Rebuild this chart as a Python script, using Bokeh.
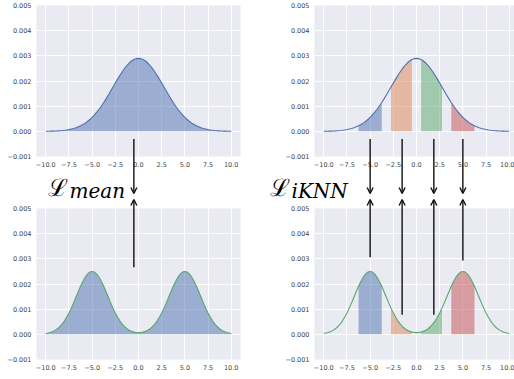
from bokeh.plotting import figure
from bokeh.models import GridBox, FixedTicker, Arrow, OpenHead
from bokeh.core.properties import value
from bokeh.embed import file_html
from bokeh.resources import INLINE
import numpy as np

# ---------------- data (values in thousandths) ----------------
x_grid = [-10.0, -9.75, -9.5, -9.25, -9.0, -8.75, -8.5, -8.25, -8.0, -7.75,
          -7.5, -7.25, -7.0, -6.75, -6.5, -6.25, -6.0, -5.75, -5.5, -5.25,
          -5.0, -4.75, -4.5, -4.25, -4.0, -3.75, -3.5, -3.25, -3.0, -2.75,
          -2.5, -2.25, -2.0, -1.75, -1.5, -1.25, -1.0, -0.75, -0.5, -0.25,
          0.0, 0.25, 0.5, 0.75, 1.0, 1.25, 1.5, 1.75, 2.0, 2.25,
          2.5, 2.75, 3.0, 3.25, 3.5, 3.75, 4.0, 4.25, 4.5, 4.75,
          5.0, 5.25, 5.5, 5.75, 6.0, 6.25, 6.5, 6.75, 7.0, 7.25,
          7.5, 7.75, 8.0, 8.25, 8.5, 8.75, 9.0, 9.25, 9.5, 9.75, 10.0]

unimodal_k = [0.004, 0.005, 0.007, 0.010, 0.014, 0.018, 0.024, 0.032, 0.042, 0.055,
              0.070, 0.090, 0.114, 0.143, 0.178, 0.219, 0.268, 0.326, 0.392, 0.469,
              0.555, 0.652, 0.760, 0.879, 1.007, 1.145, 1.290, 1.442, 1.600, 1.759,
              1.918, 2.075, 2.226, 2.368, 2.499, 2.615, 2.714, 2.794, 2.852, 2.888,
              2.900, 2.888, 2.852, 2.794, 2.714, 2.615, 2.499, 2.368, 2.226, 2.075,
              1.918, 1.759, 1.600, 1.442, 1.290, 1.145, 1.007, 0.879, 0.760, 0.652,
              0.555, 0.469, 0.392, 0.326, 0.268, 0.219, 0.178, 0.143, 0.114, 0.090,
              0.070, 0.055, 0.042, 0.032, 0.024, 0.018, 0.014, 0.010, 0.007, 0.005, 0.004]

bimodal_k = [0.033, 0.050, 0.075, 0.110, 0.157, 0.219, 0.300, 0.402, 0.527, 0.676,
             0.848, 1.041, 1.251, 1.472, 1.694, 1.908, 2.103, 2.268, 2.394, 2.473,
             2.500, 2.473, 2.394, 2.268, 2.103, 1.908, 1.694, 1.472, 1.251, 1.041,
             0.848, 0.676, 0.527, 0.403, 0.302, 0.222, 0.162, 0.118, 0.088, 0.071,
             0.066, 0.071, 0.088, 0.118, 0.162, 0.222, 0.302, 0.403, 0.527, 0.676,
             0.848, 1.041, 1.251, 1.472, 1.694, 1.908, 2.103, 2.268, 2.394, 2.473,
             2.500, 2.473, 2.394, 2.268, 2.103, 1.908, 1.694, 1.472, 1.251, 1.041,
             0.848, 0.676, 0.527, 0.402, 0.300, 0.219, 0.157, 0.110, 0.075, 0.050, 0.033]

band_lo = [-6.25, -2.75, 0.5, 3.75]
band_hi = [-3.75, -0.5, 2.75, 6.25]
band_colors = ["#4C72B0", "#DD8452", "#55A868", "#C44E52"]

x_ticks = [-10.0, -7.5, -5.0, -2.5, 0.0, 2.5, 5.0, 7.5, 10.0]
x_tick_labels = ["\u221210.0", "\u22127.5", "\u22125.0", "\u22122.5", "0.0", "2.5", "5.0", "7.5", "10.0"]
y_ticks = [-0.001, 0.0, 0.001, 0.002, 0.003, 0.004, 0.005]
y_tick_labels = ["\u22120.001", "0.000", "0.001", "0.002", "0.003", "0.004", "0.005"]

# arrows: x positions (data) and start heights (data)
mean_arrow_x = [-0.5]
mean_top_start = [-0.0003]
mean_bottom_start = [0.00267]
knn_arrow_x = [-5.0, -1.55, 1.87, 5.0]
knn_top_start = [-0.0003, -0.0003, -0.0003, -0.0003]
knn_bottom_start = [0.00306, 0.00078, 0.00078, 0.00293]

loss_symbol = "\u2112"
loss_subscripts = ["mean", "iKNN"]

xs = np.array(x_grid)
uni = np.array(unimodal_k) * 1e-3
bim = np.array(bimodal_k) * 1e-3

BG = "#EAEAF2"
BLUE = "#4C72B0"
GREEN = "#55A868"
TICK_COLOR = "#444444"

# ---------------- layout geometry (pixels) ----------------
COL_W = [256, 258]
ROW_H = [197, 182]
FRAME_LEFT = [36, 314]          # page x of frame left, per column
FRAME_TOP = [5, 208]            # page y of frame top, per row
FRAME_H = 151
PX_PER_X = 204 / 22.0
PX_PER_Y = FRAME_H / 0.006
X0, Y0, Y1 = -11.0, -0.001, 0.005


def panel(col, row):
    left_border = FRAME_LEFT[col] - sum(COL_W[:col])
    frame_w = 204 if col == 0 else 514 - FRAME_LEFT[1]
    right_border = COL_W[col] - left_border - frame_w
    top_border = FRAME_TOP[row] - sum(ROW_H[:row])
    bottom_border = ROW_H[row] - top_border - FRAME_H
    x_end = X0 + frame_w / PX_PER_X
    p = figure(width=COL_W[col], height=ROW_H[row], x_range=(X0, x_end), y_range=(Y0, Y1),
               output_backend="svg", toolbar_location=None,
               min_border_left=left_border, min_border_right=right_border,
               min_border_top=top_border, min_border_bottom=bottom_border)
    p.background_fill_color = BG
    p.border_fill_color = "white"
    p.outline_line_color = None
    p.grid.grid_line_color = "white"
    p.grid.grid_line_width = 1
    p.xaxis.ticker = FixedTicker(ticks=x_ticks)
    p.xaxis.major_label_overrides = dict(zip(x_ticks, x_tick_labels))
    p.yaxis.ticker = FixedTicker(ticks=y_ticks)
    p.yaxis.major_label_overrides = dict(zip(y_ticks, y_tick_labels))
    for ax in (p.xaxis, p.yaxis):
        ax.axis_line_color = None
        ax.major_tick_line_color = None
        ax.minor_tick_line_color = None
        ax.major_tick_out = 0
        ax.major_tick_in = 0
        ax.major_label_standoff = 5
        ax.major_label_text_font = "DejaVu Sans"
        ax.major_label_text_font_size = "6.5px"
        ax.major_label_text_color = TICK_COLOR
    return p


tl = panel(0, 0)
tl.varea(xs, 0, uni, fill_color=BLUE, fill_alpha=0.5)
tl.line(xs, uni, line_color=BLUE, line_width=1.1)

tr = panel(1, 0)
for lo, hi, c in zip(band_lo, band_hi, band_colors):
    m = (xs >= lo - 1e-9) & (xs <= hi + 1e-9)
    tr.varea(xs[m], 0, uni[m], fill_color=c, fill_alpha=0.5)
tr.line(xs, uni, line_color=BLUE, line_width=1.1)

bl = panel(0, 1)
bl.varea(xs, 0, bim, fill_color=BLUE, fill_alpha=0.5)
bl.line(xs, bim, line_color=GREEN, line_width=1.1)

br = panel(1, 1)
for lo, hi, c in zip(band_lo, band_hi, band_colors):
    m = (xs >= lo - 1e-9) & (xs <= hi + 1e-9)
    br.varea(xs[m], 0, bim[m], fill_color=c, fill_alpha=0.5)
br.line(xs, bim, line_color=GREEN, line_width=1.1)

# ---------------- overlay (page pixel coordinates) ----------------
# inside the grid, the overlay's frame is aligned to the union of the panel frames
W, H = sum(COL_W), sum(ROW_H)
OV_LEFT, OV_RIGHT = FRAME_LEFT[0], W
OV_TOP, OV_BOTTOM = FRAME_TOP[0], FRAME_TOP[1] + FRAME_H
ov = figure(width=W, height=H, x_range=(OV_LEFT, OV_RIGHT), y_range=(OV_BOTTOM, OV_TOP),
            x_axis_type=None, y_axis_type=None,
            output_backend="svg", toolbar_location=None,
            min_border_left=OV_LEFT, min_border_right=0,
            min_border_top=OV_TOP, min_border_bottom=H - OV_BOTTOM)
ov.background_fill_color = None
ov.border_fill_color = None
ov.outline_line_color = None


def page_x(col, x):
    return FRAME_LEFT[col] + (x - X0) * PX_PER_X


def page_y(row, v):
    return FRAME_TOP[row] + (Y1 - v) * PX_PER_Y


TOP_TIP_Y = 193
BOTTOM_TIP_Y = 199
ARROW_COLOR = "#111111"


def add_arrow(x0, y0, x1, y1):
    ov.add_layout(Arrow(end=OpenHead(size=6, line_width=1.4, line_color=ARROW_COLOR),
                        x_start=x0, y_start=y0, x_end=x1, y_end=y1,
                        line_width=1.4, line_color=ARROW_COLOR))


for col, axs, tops, bots in [(0, mean_arrow_x, mean_top_start, mean_bottom_start),
                             (1, knn_arrow_x, knn_top_start, knn_bottom_start)]:
    for x, t, b in zip(axs, tops, bots):
        px = page_x(col, x)
        add_arrow(px, page_y(0, t), px, TOP_TIP_Y)
        add_arrow(px, page_y(1, b), px, BOTTOM_TIP_Y)

SERIF = value("DejaVu Serif")
ov.text(x=[47, 269], y=[187, 187], text=[loss_symbol, loss_symbol], text_font=SERIF,
        text_font_size="24px", text_baseline="alphabetic", text_align="left", text_color="black")
ov.text(x=[69, 291], y=[190, 190], text=loss_subscripts, text_font=SERIF,
        text_font_style="italic", text_font_size="20px", text_baseline="alphabetic",
        text_align="left", text_color="black")

grid = GridBox(children=[(tl, 0, 0), (tr, 0, 1), (bl, 1, 0), (br, 1, 1), (ov, 0, 0, 2, 2)],
               spacing=0)
grid.styles = {"position": "absolute", "left": "0px", "top": "0px"}

open("out.html", "w").write(file_html(grid, INLINE))
